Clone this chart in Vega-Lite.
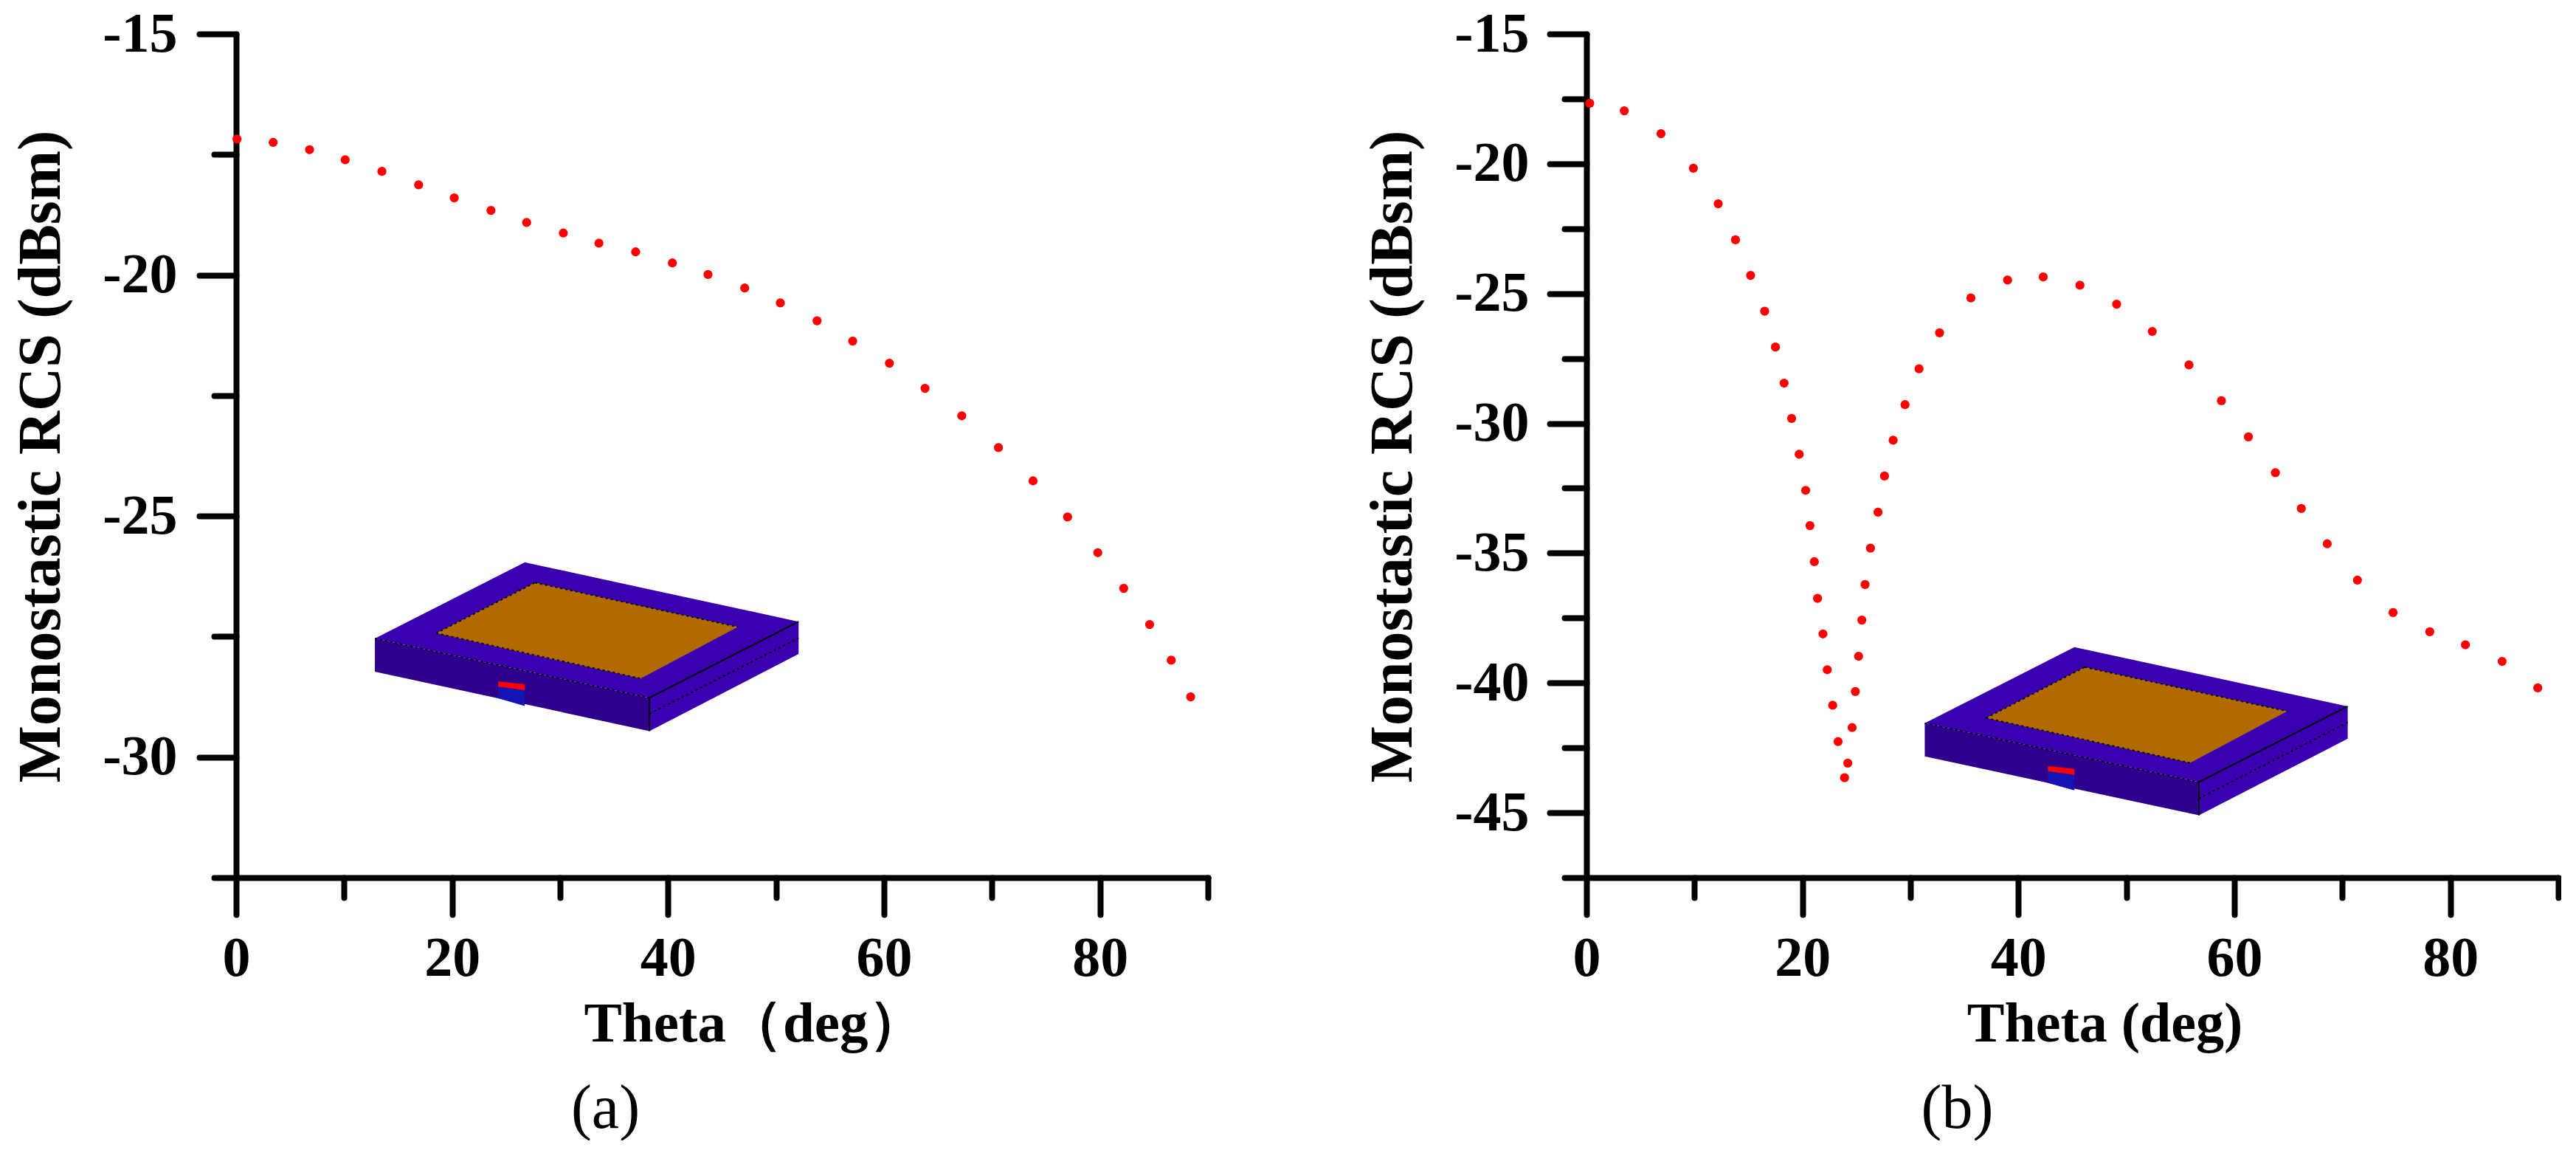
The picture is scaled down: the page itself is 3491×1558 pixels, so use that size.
{"$schema":"https://vega.github.io/schema/vega-lite/v6.json","background":"white","padding":{"left":13,"top":8,"right":0,"bottom":0},"bounds":"flush","spacing":513,
"config":{"view":{"stroke":null},"axis":{"grid":false,"domainColor":"black","domainWidth":8,"tickColor":"black","tickWidth":8,"tickCap":"round","domainCap":"round","labelFont":"Liberation Serif","labelFontWeight":"bold","labelFontSize":76,"labelColor":"black","titleFont":"Liberation Serif","titleFontWeight":"bold","titleColor":"black","labelOverlap":false,"labelFlush":false,"labelBound":false,"labelAngle":0},"title":{"font":"Liberation Serif","fontWeight":"normal","fontSize":84,"color":"black"}},
"datasets":{
"dotsA":[{"theta":0.08,"rcs":-17.18},{"theta":3.43,"rcs":-17.25},{"theta":6.8,"rcs":-17.4},{"theta":10.1,"rcs":-17.61},{"theta":13.5,"rcs":-17.85},{"theta":16.9,"rcs":-18.13},{"theta":20.2,"rcs":-18.4},{"theta":23.6,"rcs":-18.66},{"theta":26.9,"rcs":-18.91},{"theta":30.3,"rcs":-19.13},{"theta":33.6,"rcs":-19.34},{"theta":37.0,"rcs":-19.52},{"theta":40.4,"rcs":-19.75},{"theta":43.7,"rcs":-19.99},{"theta":47.1,"rcs":-20.27},{"theta":50.4,"rcs":-20.58},{"theta":53.8,"rcs":-20.95},{"theta":57.1,"rcs":-21.37},{"theta":60.5,"rcs":-21.83},{"theta":63.8,"rcs":-22.35},{"theta":67.2,"rcs":-22.92},{"theta":70.6,"rcs":-23.58},{"theta":73.8,"rcs":-24.27},{"theta":77.0,"rcs":-25.02},{"theta":79.8,"rcs":-25.76},{"theta":82.2,"rcs":-26.5},{"theta":84.6,"rcs":-27.25},{"theta":86.6,"rcs":-27.99},{"theta":88.4,"rcs":-28.75}],
"dotsB":[{"theta":0.3,"rcs":-17.67},{"theta":3.5,"rcs":-17.96},{"theta":6.9,"rcs":-18.84},{"theta":9.9,"rcs":-20.17},{"theta":12.2,"rcs":-21.54},{"theta":13.8,"rcs":-22.93},{"theta":15.2,"rcs":-24.3},{"theta":16.5,"rcs":-25.68},{"theta":17.5,"rcs":-27.06},{"theta":18.3,"rcs":-28.45},{"theta":19.0,"rcs":-29.81},{"theta":19.7,"rcs":-31.19},{"theta":20.3,"rcs":-32.58},{"theta":20.7,"rcs":-33.94},{"theta":21.1,"rcs":-35.33},{"theta":21.4,"rcs":-36.74},{"theta":21.9,"rcs":-38.11},{"theta":22.3,"rcs":-39.49},{"theta":22.8,"rcs":-40.86},{"theta":23.3,"rcs":-42.26},{"theta":23.9,"rcs":-43.65},{"theta":24.2,"rcs":-43.09},{"theta":24.6,"rcs":-41.72},{"theta":24.9,"rcs":-40.33},{"theta":25.2,"rcs":-38.97},{"theta":25.5,"rcs":-37.58},{"theta":25.8,"rcs":-36.21},{"theta":26.3,"rcs":-34.81},{"theta":27.0,"rcs":-33.42},{"theta":27.6,"rcs":-32.03},{"theta":28.4,"rcs":-30.65},{"theta":29.5,"rcs":-29.28},{"theta":30.8,"rcs":-27.9},{"theta":32.7,"rcs":-26.51},{"theta":35.6,"rcs":-25.17},{"theta":39.0,"rcs":-24.48},{"theta":42.3,"rcs":-24.36},{"theta":45.7,"rcs":-24.68},{"theta":49.1,"rcs":-25.41},{"theta":52.4,"rcs":-26.46},{"theta":55.8,"rcs":-27.75},{"theta":58.8,"rcs":-29.13},{"theta":61.3,"rcs":-30.52},{"theta":63.8,"rcs":-31.9},{"theta":66.2,"rcs":-33.28},{"theta":68.6,"rcs":-34.64},{"theta":71.4,"rcs":-36.04},{"theta":74.7,"rcs":-37.29},{"theta":78.1,"rcs":-38.03},{"theta":81.4,"rcs":-38.53},{"theta":84.8,"rcs":-39.17},{"theta":88.1,"rcs":-40.19}],
"insetA":[{"part":"front","theta":12.85,"rcs":-27.54,"rcs2":-28.23},{"part":"front","theta":38.28,"rcs":-28.77,"rcs2":-29.46},{"part":"side","theta":38.28,"rcs":-28.77,"rcs2":-29.46},{"part":"side","theta":52.09,"rcs":-27.19,"rcs2":-27.86},{"part":"top","theta":12.85,"rcs":-27.54,"rcs2":-27.54},{"part":"top","theta":26.73,"rcs":-25.96,"rcs2":-28.21},{"part":"top","theta":38.28,"rcs":-26.52,"rcs2":-28.77},{"part":"top","theta":52.09,"rcs":-27.19,"rcs2":-27.19},{"part":"plate","theta":18.52,"rcs":-27.43,"rcs2":-27.43},{"part":"plate","theta":27.68,"rcs":-26.38,"rcs2":-27.89},{"part":"plate","theta":37.46,"rcs":-26.86,"rcs2":-28.37},{"part":"plate","theta":46.48,"rcs":-27.3,"rcs2":-27.3},{"part":"blue","theta":24.27,"rcs":-28.54,"rcs2":-28.78},{"part":"blue","theta":26.73,"rcs":-28.61,"rcs2":-28.94},{"part":"red","theta":24.27,"rcs":-28.43,"rcs2":-28.54},{"part":"red","theta":26.73,"rcs":-28.49,"rcs2":-28.61}],
"insetB":[{"part":"front","theta":31.33,"rcs":-41.55,"rcs2":-42.83},{"part":"front","theta":56.72,"rcs":-43.82,"rcs2":-45.1},{"part":"side","theta":56.72,"rcs":-43.82,"rcs2":-45.1},{"part":"side","theta":70.5,"rcs":-40.9,"rcs2":-42.15},{"part":"top","theta":31.33,"rcs":-41.55,"rcs2":-41.55},{"part":"top","theta":45.19,"rcs":-38.62,"rcs2":-42.79},{"part":"top","theta":56.72,"rcs":-39.66,"rcs2":-43.82},{"part":"top","theta":70.5,"rcs":-40.9,"rcs2":-40.9},{"part":"plate","theta":37.0,"rcs":-41.35,"rcs2":-41.35},{"part":"plate","theta":46.14,"rcs":-39.39,"rcs2":-42.19},{"part":"plate","theta":55.9,"rcs":-40.28,"rcs2":-43.08},{"part":"plate","theta":64.9,"rcs":-41.09,"rcs2":-41.09},{"part":"blue","theta":42.73,"rcs":-43.4,"rcs2":-43.85},{"part":"blue","theta":45.19,"rcs":-43.54,"rcs2":-44.14},{"part":"red","theta":42.73,"rcs":-43.2,"rcs2":-43.4},{"part":"red","theta":45.19,"rcs":-43.31,"rcs2":-43.54}],
"edgesA":[{"edge":"e1","kind":"solid","theta":38.28,"rcs":-28.77},{"edge":"e1","kind":"solid","theta":38.28,"rcs":-29.46},{"edge":"e2","kind":"solid","theta":38.28,"rcs":-28.77},{"edge":"e2","kind":"solid","theta":52.09,"rcs":-27.19},{"edge":"d1","kind":"dot","theta":12.85,"rcs":-27.54},{"edge":"d1","kind":"dot","theta":38.28,"rcs":-28.77},{"edge":"d2","kind":"dot","theta":18.52,"rcs":-27.43},{"edge":"d2","kind":"dot","theta":37.46,"rcs":-28.37},{"edge":"d3","kind":"dot","theta":18.52,"rcs":-27.43},{"edge":"d3","kind":"dot","theta":27.68,"rcs":-26.38},{"edge":"d4","kind":"dot","theta":27.68,"rcs":-26.38},{"edge":"d4","kind":"dot","theta":46.48,"rcs":-27.3},{"edge":"d5","kind":"dot","theta":38.28,"rcs":-29.1},{"edge":"d5","kind":"dot","theta":52.09,"rcs":-27.53}],
"edgesB":[{"edge":"e1","kind":"solid","theta":56.72,"rcs":-43.82},{"edge":"e1","kind":"solid","theta":56.72,"rcs":-45.1},{"edge":"e2","kind":"solid","theta":56.72,"rcs":-43.82},{"edge":"e2","kind":"solid","theta":70.5,"rcs":-40.9},{"edge":"d1","kind":"dot","theta":31.33,"rcs":-41.55},{"edge":"d1","kind":"dot","theta":56.72,"rcs":-43.82},{"edge":"d2","kind":"dot","theta":37.0,"rcs":-41.35},{"edge":"d2","kind":"dot","theta":55.9,"rcs":-43.08},{"edge":"d3","kind":"dot","theta":37.0,"rcs":-41.35},{"edge":"d3","kind":"dot","theta":46.14,"rcs":-39.39},{"edge":"d4","kind":"dot","theta":46.14,"rcs":-39.39},{"edge":"d4","kind":"dot","theta":64.9,"rcs":-41.09},{"edge":"d5","kind":"dot","theta":56.72,"rcs":-44.45},{"edge":"d5","kind":"dot","theta":70.5,"rcs":-41.52}]
},
"hconcat":[
{"width":1317,"height":1143,
"title":{"text":"(a)","orient":"bottom","anchor":"middle","dx":-158,"offset":37},
"encoding":{
"x":{"field":"theta","type":"quantitative","scale":{"domain":[0,90],"nice":false},"axis":{"values":[0,10,20,30,40,50,60,70,80,90],"labelExpr":"datum.value % 20 === 0 ? datum.label : ''","tickSize":{"condition":{"test":"datum.value % 20 === 0","value":50},"value":27},"labelPadding":22,"title":"Theta（deg）","titleFontSize":77,"titleX":702,"titleY":221,"titleBaseline":"alphabetic"}},
"y":{"field":"rcs","type":"quantitative","scale":{"domain":[-32.5,-15],"nice":false},"axis":{"values":[-15,-17.5,-20,-22.5,-25,-27.5,-30,-32.5],"labelExpr":"datum.value % 5 === 0 ? '-' + abs(datum.value) : ''","tickSize":{"condition":{"test":"datum.value % 5 === 0","value":50},"value":30},"labelPadding":30,"title":"Monostastic RCS (dBsm)","titleFontSize":82,"titleX":-240,"titleY":572,"titleBaseline":"alphabetic"}}
},
"layer":[
{"data":{"name":"insetA"},"mark":{"type":"area"},"encoding":{"y2":{"field":"rcs2"},"color":{"field":"part","type":"nominal","legend":null,"scale":{"domain":["front","side","top","plate","blue","red"],"range":["#2e008c","#3a00b0","#3a00b0","#b06a00","#1414b4","#ff0000"]}}}},
{"data":{"name":"edgesA"},"transform":[{"filter":"datum.kind === 'solid'"}],"mark":{"type":"line","color":"black","strokeWidth":2},"encoding":{"detail":{"field":"edge"}}},
{"data":{"name":"edgesA"},"transform":[{"filter":"datum.kind === 'dot'"}],"mark":{"type":"line","color":"black","strokeWidth":2,"strokeDash":[3,4]},"encoding":{"detail":{"field":"edge"}}},
{"data":{"name":"dotsA"},"mark":{"type":"circle","color":"#ff0000","size":150,"opacity":1}}
]},
{"width":1317,"height":1143,
"title":{"text":"(b)","orient":"bottom","anchor":"middle","dx":-156,"offset":37},
"encoding":{
"x":{"field":"theta","type":"quantitative","scale":{"domain":[0,90],"nice":false},"axis":{"values":[0,10,20,30,40,50,60,70,80,90],"labelExpr":"datum.value % 20 === 0 ? datum.label : ''","tickSize":{"condition":{"test":"datum.value % 20 === 0","value":50},"value":27},"labelPadding":22,"title":"Theta (deg)","titleFontSize":76,"titleX":702,"titleY":221,"titleBaseline":"alphabetic"}},
"y":{"field":"rcs","type":"quantitative","scale":{"domain":[-47.5,-15],"nice":false},"axis":{"values":[-15,-17.5,-20,-22.5,-25,-27.5,-30,-32.5,-35,-37.5,-40,-42.5,-45,-47.5],"labelExpr":"datum.value % 5 === 0 ? '-' + abs(datum.value) : ''","tickSize":{"condition":{"test":"datum.value % 5 === 0","value":50},"value":30},"labelPadding":28,"title":"Monostastic RCS (dBsm)","titleFontSize":82,"titleX":-238,"titleY":572,"titleBaseline":"alphabetic"}}
},
"layer":[
{"data":{"name":"insetB"},"mark":{"type":"area"},"encoding":{"y2":{"field":"rcs2"},"color":{"field":"part","type":"nominal","legend":null,"scale":{"domain":["front","side","top","plate","blue","red"],"range":["#2e008c","#3a00b0","#3a00b0","#b06a00","#1414b4","#ff0000"]}}}},
{"data":{"name":"edgesB"},"transform":[{"filter":"datum.kind === 'solid'"}],"mark":{"type":"line","color":"black","strokeWidth":2},"encoding":{"detail":{"field":"edge"}}},
{"data":{"name":"edgesB"},"transform":[{"filter":"datum.kind === 'dot'"}],"mark":{"type":"line","color":"black","strokeWidth":2,"strokeDash":[3,4]},"encoding":{"detail":{"field":"edge"}}},
{"data":{"name":"dotsB"},"mark":{"type":"circle","color":"#ff0000","size":150,"opacity":1}}
]}
],
"resolve":{"scale":{"x":"independent","y":"independent","color":"independent"}}
}
